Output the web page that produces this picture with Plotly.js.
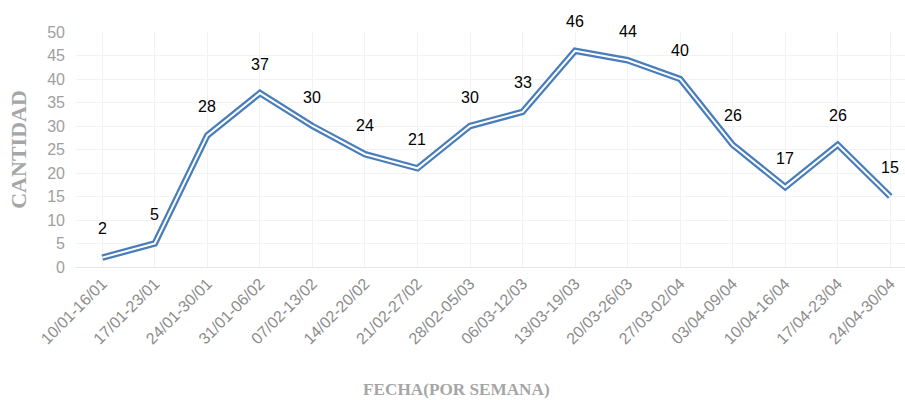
<!DOCTYPE html>
<html>
<head>
<meta charset="utf-8">
<script src="https://cdn.plot.ly/plotly-3.0.1.min.js"></script>
<style>html,body{margin:0;padding:0;background:#fff;}#chart{width:905px;height:400px;}</style>
</head>
<body>
<div id="chart"></div>
<script>
const categories = ["10/01-16/01","17/01-23/01","24/01-30/01","31/01-06/02","07/02-13/02","14/02-20/02","21/02-27/02","28/02-05/03","06/03-12/03","13/03-19/03","20/03-26/03","27/03-02/04","03/04-09/04","10/04-16/04","17/04-23/04","24/04-30/04"];
const cantidad = [2,5,28,37,30,24,21,30,33,46,44,40,26,17,26,15];
const yTicks = [0,5,10,15,20,25,30,35,40,45,50];

const blue = '#4a7ebb';
const traces = [
  {x: categories, y: cantidad, type: 'scatter', mode: 'lines', line: {color: blue, width: 6.5}, hoverinfo: 'skip'},
  {x: categories, y: cantidad, type: 'scatter', mode: 'lines', line: {color: '#ffffff', width: 2}, hoverinfo: 'skip'}
];

const annotations = categories.map((c, i) => ({
  x: c, y: cantidad[i], xref: 'x', yref: 'y', text: String(cantidad[i]),
  showarrow: false, yshift: 29, xanchor: 'center', yanchor: 'middle',
  font: {family: 'Liberation Sans, Arial, sans-serif', size: 16, color: '#000000'}
}));
annotations.push({
  text: '<b>FECHA(POR SEMANA)</b>', xref: 'paper', yref: 'paper', x: (456 - 76) / 829, y: 0,
  xanchor: 'center', yanchor: 'middle', yshift: -122, showarrow: false,
  font: {family: 'Liberation Serif, Times New Roman, serif', size: 17.2, color: '#a6a6a6'}
});

const layout = {
  width: 905, height: 400,
  margin: {l: 76, r: 0, t: 32, b: 133},
  paper_bgcolor: '#ffffff', plot_bgcolor: '#ffffff',
  showlegend: false,
  xaxis: {
    type: 'category', range: [-0.5, 15.28],
    tickangle: -45, ticks: '', showgrid: true, gridcolor: '#f2f2f2',
    showline: true, linecolor: '#e6e6e6', linewidth: 1, zeroline: false,
    tickfont: {family: 'Liberation Sans, Arial, sans-serif', size: 16, color: '#8c8c8c'},
    automargin: false
  },
  yaxis: {
    range: [0, 50], tickvals: yTicks, ticktext: yTicks.map(String),
    showgrid: true, gridcolor: '#f2f2f2', zeroline: false, showline: false, ticks: '',
    ticklabelstandoff: 10,
    tickfont: {family: 'Liberation Sans, Arial, sans-serif', size: 16, color: '#a0a0a0'},
    title: {text: '<b>CANTIDAD</b>', standoff: 14, font: {family: 'Liberation Serif, Times New Roman, serif', size: 22, color: '#a6a6a6'}},
    automargin: false
  },
  annotations: annotations
};

Plotly.newPlot('chart', traces, layout, {displayModeBar: false, staticPlot: true});
</script>
</body>
</html>
